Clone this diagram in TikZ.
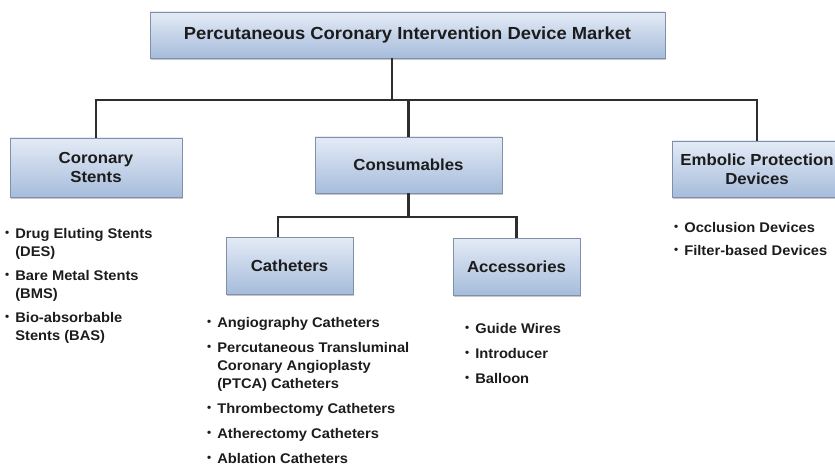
\documentclass[tikz,border=0pt]{standalone}
\usepackage{fontspec}
\setmainfont{Liberation Sans}[FakeStretch=1.05]
\usetikzlibrary{shadows}
\definecolor{boxtop}{HTML}{E4EBF6}
\definecolor{boxbot}{HTML}{A6BCDB}
\definecolor{boxline}{HTML}{7F90AA}
\definecolor{linkc}{HTML}{2E2E2E}
\definecolor{txtc}{HTML}{1C1C1C}
\newcommand{\kbul}{\raisebox{.2ex}{\scalebox{.8}{\textbullet}}}
\begin{document}
\begin{tikzpicture}[x=1pt,y=-1pt,
  box/.style={draw=boxline,line width=.8pt,top color=boxtop,bottom color=boxbot,
    drop shadow={shadow xshift=1.2pt,shadow yshift=-1.8pt,opacity=.45},
    align=center,inner sep=0pt,text=txtc,font=\fontsize{16}{19}\selectfont\bfseries},
  link/.style={draw=linkc,line width=2.2pt},
  list/.style={anchor=base west,inner sep=0pt,text=txtc,font=\fontsize{14}{18}\selectfont\bfseries}]
\clip[use as bounding box](0,0) rectangle (835,468);
% boxes
\node[box,minimum width=515,minimum height=46,font=\fontsize{17.5}{20}\selectfont\bfseries](market) at (407.5,35){Percutaneous Coronary Intervention Device Market};
\node[box,minimum width=172,minimum height=59](stents) at (96,167.5){Coronary\\Stents};
\node[box,minimum width=187,minimum height=56](cons) at (408.5,165){Consumables};
\node[box,minimum width=170,minimum height=56](emb) at (757,169){Embolic Protection\\Devices};
\node[box,minimum width=127,minimum height=57](cath) at (289.5,265.5){Catheters};
\node[box,minimum width=127,minimum height=57](acc) at (516.5,266.5){Accessories};
% connectors
\coordinate(bar) at (0,100);
\coordinate(subbar) at (0,217);
\coordinate(marketfoot) at ([xshift=-15.5pt]market.south);
\coordinate(cathtop) at ([xshift=-11.5pt]cath.north);
\draw[link](marketfoot)--(marketfoot|-bar);
\draw[link](stents.north)--(stents.north|-bar)--(emb.north|-bar)--(emb.north);
\draw[link](cons.north)--(cons.north|-bar);
\draw[link](cons.south)--(cons.south|-subbar);
\draw[link](cathtop)--(cathtop|-subbar)--(acc.north|-subbar)--(acc.north);
% lists
\node[list](stentlist) at (5,238){\begin{tabular}[t]{@{}l@{\hspace{6pt}}l@{}}
\kbul & Drug Eluting Stents\\ & (DES)\\[6pt]
\kbul & Bare Metal Stents\\ & (BMS)\\[6pt]
\kbul & Bio-absorbable\\ & Stents (BAS)\end{tabular}};
\node[list](cathlist) at (207,327){\begin{tabular}[t]{@{}l@{\hspace{6pt}}l@{}}
\kbul & Angiography Catheters\\[7pt]
\kbul & Percutaneous Transluminal\\ & Coronary Angioplasty\\ & (PTCA) Catheters\\[7pt]
\kbul & Thrombectomy Catheters\\[7pt]
\kbul & Atherectomy Catheters\\[7pt]
\kbul & Ablation Catheters\end{tabular}};
\node[list](acclist) at (465,333){\begin{tabular}[t]{@{}l@{\hspace{6pt}}l@{}}
\kbul & Guide Wires\\[7pt]
\kbul & Introducer\\[7pt]
\kbul & Balloon\end{tabular}};
\node[list](emblist) at (674,232){\begin{tabular}[t]{@{}l@{\hspace{6pt}}l@{}}
\kbul & Occlusion Devices\\[5pt]
\kbul & Filter-based Devices\end{tabular}};
\end{tikzpicture}
\end{document}
